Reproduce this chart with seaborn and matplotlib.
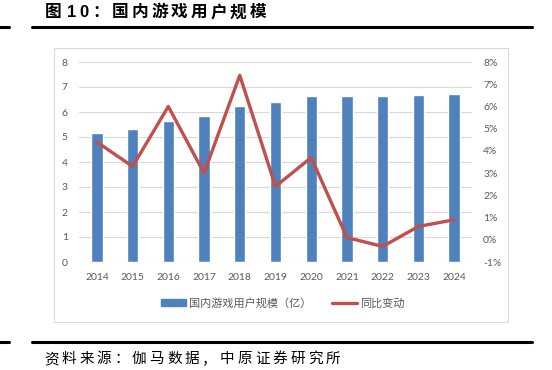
import numpy as np
import matplotlib
matplotlib.use("Agg")
import matplotlib.pyplot as plt
from matplotlib.patches import Patch, Rectangle
from matplotlib.lines import Line2D
from matplotlib.ticker import FuncFormatter
import seaborn as sns

# data
years = ["2014", "2015", "2016", "2017", "2018", "2019", "2020", "2021", "2022", "2023", "2024"]
users = [5.17, 5.34, 5.66, 5.83, 6.26, 6.40, 6.65, 6.66, 6.64, 6.68, 6.74]   # 亿
growth = [4.4, 3.3, 6.0, 3.0, 7.4, 2.4, 3.7, 0.1, -0.3, 0.6, 0.9]            # %

bar_label = "国内游戏用户规模（亿）"
line_label = "同比变动"
title_cjk = "：国内游戏用户规模"
source = "资料来源：伽马数据，中原证券研究所"

BLUE = "#4F81BD"
RED = "#C0504D"
GRID = "#D9D9D9"
TXT = "#595959"

sns.set_theme(style="white")
plt.rcParams["font.family"] = ["Lato", "Noto Sans CJK SC", "DejaVu Sans"]

W, H = 552, 370
fig = plt.figure(figsize=(W / 100, H / 100), dpi=100)


def fx(px):
    return px / W


def fy(py):
    return 1 - py / H


ax = fig.add_axes([fx(79), fy(262), fx(472 - 79), (262 - 62) / H])

sns.barplot(x=years, y=users, color=BLUE, saturation=1, width=0.32,
            errorbar=None, ax=ax)
ax.set_ylim(0, 8)
ax.set_yticks(range(0, 9))
ax.set_xlim(-0.5, len(years) - 0.5)
ax.grid(axis="y", color=GRID, lw=0.8)
ax.set_axisbelow(True)
ax.set_xlabel("")
ax.set_ylabel("")

ax2 = ax.twinx()
sns.lineplot(x=np.arange(len(years)), y=growth, color=RED, lw=2.4, ax=ax2)
ax2.set_ylim(-1, 8)
ax2.set_yticks(range(-1, 9))
ax2.yaxis.set_major_formatter(FuncFormatter(lambda v, p: f"{v:.0f}%"))
ax2.set_xlim(-0.5, len(years) - 0.5)
ax2.set_ylabel("")

for a in (ax, ax2):
    for s in a.spines.values():
        s.set_visible(False)
    a.tick_params(axis="both", length=0, pad=8, labelsize=7.5, labelcolor=TXT)

# legend
handles = [Patch(color=BLUE), Line2D([], [], color=RED, lw=2.4)]
fig.legend(handles, [bar_label, line_label], loc="center",
           bbox_to_anchor=(fx(283), fy(303)), ncol=2, frameon=False,
           fontsize=8, handlelength=2.2, handleheight=0.55,
           handletextpad=0.3, columnspacing=1.9, labelcolor=TXT,
           prop={"family": ["Noto Sans CJK SC"], "size": 8})

# chart frame
fig.add_artist(Rectangle((fx(54), fy(322)), fx(508 - 54), (322 - 48) / H,
                         transform=fig.transFigure, fill=False, ec=GRID, lw=0.8))

# header / footer rules
for yy in (26.5, 341.7):
    fig.add_artist(Line2D([0, fx(9)], [fy(yy)] * 2, color="black", lw=2.2))
    fig.add_artist(Line2D([fx(32), fx(532)], [fy(yy)] * 2, color="black", lw=2.2))


def spaced(text, x0, y, step, **kw):
    for i, ch in enumerate(text):
        fig.text(fx(x0 + i * step), fy(y), ch, ha="left", va="center", **kw)


tkw = dict(fontsize=12, fontweight="bold", color="black",
           family=["Liberation Sans", "Noto Sans CJK SC"])
spaced("图", 45, 12.5, 19.7, **tkw)
spaced("10", 67, 12.5, 12, **tkw)
spaced(title_cjk, 92, 12.5, 19.7, **tkw)

spaced(source, 44, 359, 17.6, fontsize=10.5, color="black",
       family=["Noto Sans CJK SC"])

fig.savefig("out.png", dpi=100)
